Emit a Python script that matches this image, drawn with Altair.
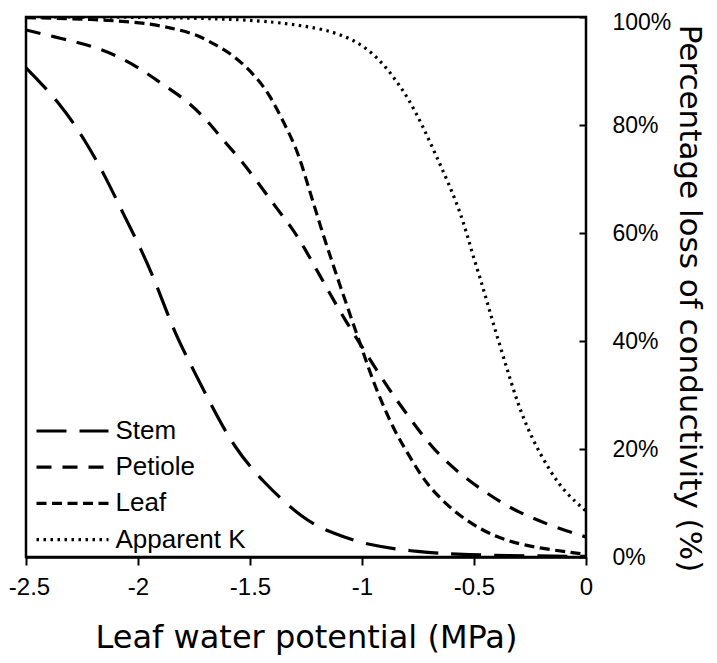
import altair as alt
import pandas as pd

series_names = ["Stem", "Petiole", "Leaf", "Apparent K"]

stem_x = [-2.5, -2.35, -2.23, -2.14, -2.07, -1.98, -1.91, -1.84, -1.75, -1.66, -1.57, -1.45, -1.26, -1.13, -0.98, -0.75, -0.53, -0.25, 0.0]
stem_y = [90.6, 84.2, 76.8, 70.0, 63.9, 56.5, 49.7, 41.8, 34.4, 27.1, 20.3, 14.2, 6.8, 4.4, 2.2, 0.9, 0.4, 0.2, 0.1]

petiole_x = [-2.5, -2.33, -2.21, -2.09, -1.98, -1.89, -1.78, -1.69, -1.62, -1.54, -1.46, -1.38, -1.31, -1.26, -1.14, -1.07, -1.01, -0.88, -0.80, -0.73, -0.65, -0.55, -0.46, -0.35, -0.24, -0.13, 0.0]
petiole_y = [97.6, 95.9, 94.7, 92.8, 90.2, 87.5, 84.5, 80.8, 77.2, 73.5, 69.1, 64.5, 60.8, 57.5, 48.5, 43.5, 39.6, 31.0, 26.5, 22.5, 18.6, 15.0, 12.3, 9.3, 7.2, 5.4, 3.7]

leaf_x = [-2.5, -2.2, -1.96, -1.86, -1.75, -1.65, -1.57, -1.48, -1.41, -1.35, -1.29, -1.25, -1.22, -1.18, -1.14, -1.10, -1.05, -1.00, -0.95, -0.90, -0.85, -0.80, -0.75, -0.70, -0.60, -0.47, -0.35, -0.21, 0.0]
leaf_y = [99.9, 99.6, 98.9, 98.0, 97.0, 94.8, 92.8, 89.3, 85.5, 80.5, 75.5, 70.0, 66.0, 60.5, 55.5, 50.5, 44.5, 38.5, 32.5, 27.5, 23.0, 19.5, 16.0, 13.0, 8.7, 5.0, 2.9, 1.6, 0.5]

appk_x = [-2.5, -2.0, -1.5, -1.28, -1.13, -1.01, -0.92, -0.85, -0.79, -0.73, -0.67, -0.61, -0.55, -0.51, -0.46, -0.42, -0.35, -0.30, -0.24, -0.16, -0.09, 0.0]
appk_y = [100.0, 100.0, 99.6, 98.5, 97.4, 95.2, 92.1, 88.4, 84.7, 79.9, 74.4, 68.9, 62.6, 56.5, 50.0, 44.0, 34.5, 27.8, 21.8, 15.8, 11.8, 8.5]

x_ticks = [-2.5, -2.0, -1.5, -1.0, -0.5, 0.0]
y_ticks = [0, 20, 40, 60, 80, 100]

rows = []
for name, xs, ys in [("Stem", stem_x, stem_y), ("Petiole", petiole_x, petiole_y),
                     ("Leaf", leaf_x, leaf_y), ("Apparent K", appk_x, appk_y)]:
    for xv, yv in zip(xs, ys):
        rows.append({"series": name, "psi": xv, "plc": yv})
df = pd.DataFrame(rows)

W, H = 560, 540
dash_range = [[30, 13], [15, 11], [10, 5.5], [2.5, 4.5]]

xscale = alt.Scale(domain=[-2.5, 0], nice=False, zero=False)
yscale = alt.Scale(domain=[0, 100], nice=False)

lines = alt.Chart(df).mark_line(clip=True, interpolate="basis", color="black", strokeWidth=3.2).encode(
    x=alt.X("psi:Q", scale=xscale,
            axis=alt.Axis(values=x_ticks, labelExpr="'' + datum.value",
                          title="Leaf water potential (MPa)",
                          tickSize=8, tickWidth=2, tickColor="black",
                          domainColor="black", domainWidth=2.5,
                          labelFont="Liberation Sans", labelFontSize=24, labelColor="black",
                          labelPadding=10, labelFlush=False,
                          labelOffset={"condition": {"test": "datum.value == -2.5", "value": 3}, "value": 0},
                          titleFont="DejaVu Sans", titleFontSize=32, titleFontWeight="normal",
                          titleColor="black", titleBaseline="alphabetic", titleY=90, titleX=280,
                          grid=False)),
    y=alt.Y("plc:Q", scale=yscale,
            axis=alt.Axis(orient="right", values=y_ticks, labelExpr="datum.value + '%'",
                          ticks=False, domain=False,
                          title="Percentage loss of conductivity (%)",
                          labelFont="Liberation Sans", labelFontSize=23, labelColor="black",
                          labelPadding=26, labelFlush=False,
                          labelOffset={"condition": {"test": "datum.value == 100", "value": 5}, "value": 0},
                          titleFont="DejaVu Sans", titleFontSize=31, titleFontWeight="normal",
                          titleColor="black", titleAngle=90, titleAlign="center",
                          titleBaseline="alphabetic", titleX=93, titleY=281,
                          grid=False)),
    strokeDash=alt.StrokeDash("series:N",
                              scale=alt.Scale(domain=series_names, range=dash_range),
                              sort=series_names,
                              legend=alt.Legend(title=None, orient="none", legendX=6.5, legendY=401,
                                                symbolType="M-1,0L7,0", symbolSize=324,
                                                symbolStrokeWidth=3.2, symbolStrokeColor="black",
                                                symbolFillColor="transparent",
                                                labelFont="Liberation Sans", labelFontSize=26,
                                                labelColor="black", labelOffset=57,
                                                rowPadding=10.2, padding=0)),
)

tick_layer = alt.Chart(df).mark_point(opacity=0).encode(
    x=alt.X("psi:Q", scale=xscale),
    y=alt.Y("plc:Q", scale=yscale,
            axis=alt.Axis(orient="left", offset=-W, values=y_ticks, labels=False, domain=False,
                          tickSize=7, tickWidth=2, tickColor="black", title=None, grid=False)),
)

chart = alt.layer(lines, tick_layer).resolve_axis(y="independent").properties(
    width=W, height=H,
    autosize=alt.AutoSizeParams(type="none"),
    padding={"left": 18, "top": 9, "right": 123, "bottom": 98},
).configure_view(stroke="black", strokeWidth=2.5)

chart.save("out.html", embed_options={"renderer": "svg", "actions": False})
